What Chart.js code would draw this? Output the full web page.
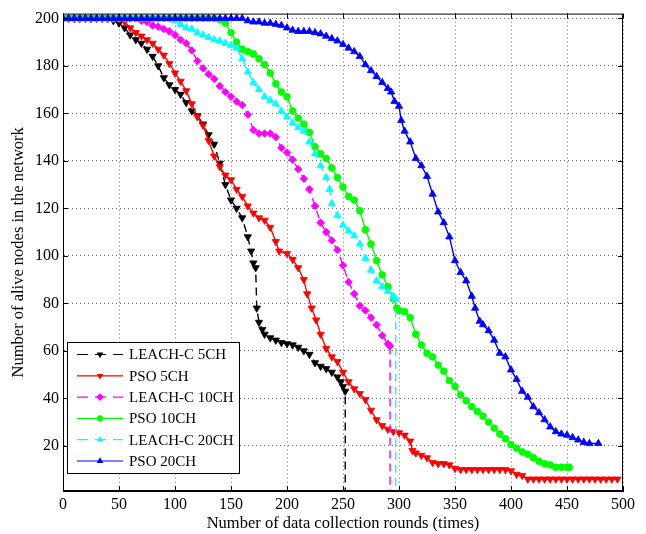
<!DOCTYPE html>
<html>
<head>
<meta charset="utf-8">
<script src="https://cdn.jsdelivr.net/npm/chart.js@4"></script>
<style>
  html, body { margin: 0; padding: 0; background: #fff; }
  #wrap { width: 646px; height: 534px; }
</style>
</head>
<body>
<div id="wrap"><canvas id="myChart" width="646" height="534"></canvas></div>
<script>
// rounds / alive nodes pairs
const leach5 = [[0,200],[5,200],[10,200],[15,200],[20,200],[25,200],[30,200],[35,200],[40,200],
  [45,199],[50,198],[55,196],[60,193],[65,191],[70,189.5],[75,187],[80,184],[85,180],[90,175],[95,172],[100,170],
  [105,168],[110,164.5],[115,161],[120,159],[125,155.5],[130,151],[135,147],[140,139],[145,130],[150,123.5],
  [155,120],[160,116],[165,108],[168,102],[170,97],[172,95],[173,78],[175,72],[178,69],[180,67],
  [185,65.5],[190,64.5],[195,63.5],[200,63],[205,62.5],[210,61.5],[215,60],[220,58.5],[225,55],[230,53.5],
  [235,52.5],[240,51],[245,49],[248,47],[250,45],[252,43],[252,0]];

const pso5 = [[0,200],[5,200],[10,200],[15,200],[20,200],[25,200],[30,200],[35,200],[40,200],[45,200],[50,200],
  [55,198.5],[60,196],[65,194],[70,192.5],[75,191],[80,189.5],[85,187],[90,184.5],[95,181],[100,177],
  [105,173.5],[110,169.5],[115,164],[120,158.5],[125,155],[130,148.5],[135,142],[140,137.5],[145,134],[150,132],
  [155,128],[160,125],[165,121],[170,118],[175,116],[180,115],[185,112],[190,106],[193,102],[200,101],
  [205,98.5],[210,95],[215,90],[218,84],[222,78],[226,73],[230,67],[235,61],[240,57.5],[245,55.5],
  [250,51],[255,47],[260,44],[265,42],[270,39.5],[275,35],[280,31],[285,28.5],[290,27],[295,26],
  [300,25.5],[305,24.5],[310,22],[312,18],[315,17],[320,16],[325,15],[330,13],[335,12.5],[340,12.5],
  [345,12],[350,10.5],[355,10],[360,10],[365,10],[370,10],[375,10],[380,10],[385,10],[390,10],[395,10],
  [400,9.5],[405,8],[410,7.5],[415,6],[420,6],[425,6],[430,6],[435,6],[440,6],[445,6],[450,6],
  [455,6],[460,6],[465,6],[470,6],[475,6],[480,6],[485,6],[490,6],[495,6]];

const leach10 = [[0,200],[5,200],[10,200],[15,200],[20,200],[25,200],[30,200],[35,200],[40,200],[45,200],
  [50,200],[55,200],[60,200],[65,200],[70,199],[75,198.5],[80,197],[85,196.5],[90,195.5],[95,194.5],[100,193],
  [105,191],[110,189.5],[115,186.5],[120,182],[125,179],[130,176.5],[135,174.5],[140,171.5],[145,169],[150,167],
  [155,165],[160,163.5],[165,159.5],[170,153],[175,151.5],[180,151.5],[185,151.5],[190,150],[195,145.5],[200,143.5],
  [205,140.5],[210,136.5],[215,132.5],[220,128],[225,121],[230,114],[235,110],[240,106.5],[245,102.5],[250,96],
  [255,89],[260,84],[265,79],[270,77],[275,74],[280,71],[285,66.5],[290,63],[292,62],[292,0]];

const pso10 = [[0,200],[5,200],[10,200],[15,200],[20,200],[25,200],[30,200],[35,200],[40,200],[45,200],
  [50,200],[55,200],[60,200],[65,200],[70,200],[75,200],[80,200],[85,200],[90,200],[95,200],[100,200],
  [105,200],[110,200],[115,200],[120,200],[125,200],[130,200],[135,200],[140,199.5],[145,198],[150,194],
  [155,190],[160,187],[165,186],[170,185],[175,183],[180,180.5],[185,177],[190,172.5],[195,169],[200,167],
  [205,161],[210,158],[215,155.5],[220,152],[225,146],[230,143],[235,141],[240,137],[245,133],[250,129],
  [255,125],[260,123.5],[265,119],[270,111],[275,105],[280,98],[285,92],[290,87],[295,82],[298,78],
  [300,77],[305,76.5],[310,74],[315,67],[320,62.5],[325,59],[330,57.5],[335,54],[340,51.5],[345,47.5],
  [350,45],[355,41.5],[360,39],[365,36.5],[370,34.5],[375,32.5],[380,30],[385,27.5],[390,25],[395,23],
  [400,20.5],[405,19],[410,17.5],[415,16.5],[420,15],[425,13.5],[430,12.5],[435,12],[440,11],[445,11],
  [450,11],[452,11]];

const leach20 = [[0,200],[5,200],[10,200],[15,200],[20,200],[25,200],[30,200],[35,200],[40,200],[45,200],
  [50,200],[55,200],[60,200],[65,200],[70,200],[75,200],[80,200],[85,200],[90,200],[95,200],[100,199],
  [105,197.5],[110,196],[115,195.5],[120,194],[125,193],[130,192],[135,191],[140,190.5],[145,189.5],[150,188.5],
  [155,187.5],[160,183],[165,177.5],[170,173],[175,170],[180,167],[185,165.5],[190,164],[195,161],[200,158.5],
  [205,156],[210,154],[215,152.5],[220,148],[225,143],[230,138],[235,133],[238,128],[240,122],[245,117],
  [250,113],[255,110.5],[260,108.5],[265,105],[270,99],[275,94],[280,89.5],[285,87],[290,85],[295,83],
  [297,82],[297,0]];

const pso20 = [[0,200],[5,200],[10,200],[15,200],[20,200],[25,200],[30,200],[35,200],[40,200],[45,200],
  [50,200],[55,200],[60,200],[65,200],[70,200],[75,200],[80,200],[85,200],[90,200],[95,200],[100,200],
  [105,200],[110,200],[115,200],[120,200],[125,200],[130,200],[135,200],[140,200],[145,200],[150,200],
  [155,200],[160,200],[165,199],[170,198.5],[175,198.5],[180,198],[185,198],[190,197.5],[195,197],[200,196],
  [205,195],[210,194.5],[215,194.5],[220,194.5],[225,194],[230,193.5],[235,192.5],[240,191.5],[245,190.5],[250,189],
  [255,187.5],[260,186],[265,184],[270,180.5],[275,178],[280,175.5],[285,173],[290,170.5],[293,169],[296,165],
  [300,163],[302,157],[305,152.5],[310,148],[315,141],[320,138],[325,133.5],[330,126],[335,118.5],[340,114],
  [345,108],[350,98],[355,93],[360,89.5],[365,83],[368,78],[372,72.5],[375,71],[380,68.5],[385,64.5],
  [390,59],[395,57.5],[400,52],[405,48],[410,43],[415,40.5],[420,36.5],[425,34],[430,31],[435,28],
  [440,26],[445,25],[450,24.5],[455,23.5],[460,22.5],[465,21.5],[470,21],[478,21]];

const seriesLabels = ["LEACH-C 5CH", "PSO 5CH", "LEACH-C 10CH", "PSO 10CH", "LEACH-C 20CH", "PSO 20CH"];
const xTicks = [0, 50, 100, 150, 200, 250, 300, 350, 400, 450, 500];
const yTicks = [20, 40, 60, 80, 100, 120, 140, 160, 180, 200];

const FONT = "'Liberation Serif', 'DejaVu Serif', serif";

// style per series (same order as labels)
const styles = [
	{ data: leach5, color: "#000000", dashed: true, shape: "triangle", rot: 180 },
	{ data: pso5, color: "#ff0000", dashed: false, shape: "triangle", rot: 180 },
	{ data: leach10, color: "#ff00ff", dashed: true, shape: "rectRot", rot: 0 },
	{ data: pso10, color: "#00ff00", dashed: false, shape: "circle", rot: 0 },
	{ data: leach20, color: "#00ffff", dashed: true, shape: "triangle", rot: 0 },
	{ data: pso20, color: "#0000ff", dashed: false, shape: "triangle", rot: 0 },
];

const datasets = styles.map(function (s, i) {
	const last = s.data.length - 1;
	return {
		label: seriesLabels[i],
		data: s.data.map(function (p) { return { x: p[0], y: p[1] }; }),
		borderColor: s.color,
		backgroundColor: s.color,
		borderWidth: 1.4,
		borderDash: s.dashed ? [8, 5] : [],
		pointStyle: s.shape,
		pointRotation: s.rot,
		pointRadius: function (c) {
			if (s.dashed && c.dataIndex === last) return 0;
			return s.shape === "triangle" ? 4.2 : (s.shape === "rectRot" ? 3.8 : 3.4);
		},
		pointBorderWidth: 0.8,
		pointHoverRadius: 0,
		fill: false,
		tension: 0,
		order: 6 - i,
	};
});

function drawMarker(ctx, shape, rot, x, y, r, color) {
	ctx.save();
	ctx.fillStyle = color;
	ctx.setLineDash([]);
	ctx.translate(x, y);
	ctx.rotate(rot * Math.PI / 180);
	ctx.beginPath();
	if (shape === "triangle") {
		ctx.moveTo(0, -r);
		ctx.lineTo(r * 0.866, r * 0.5);
		ctx.lineTo(-r * 0.866, r * 0.5);
		ctx.closePath();
	} else if (shape === "rectRot") {
		ctx.moveTo(0, -r);
		ctx.lineTo(r, 0);
		ctx.lineTo(0, r);
		ctx.lineTo(-r, 0);
		ctx.closePath();
	} else {
		ctx.arc(0, 0, r * 0.8, 0, Math.PI * 2);
	}
	ctx.fill();
	ctx.restore();
}

// frame, inward ticks and legend box drawn on top
const framePlugin = {
	id: "frame",
	afterDatasetsDraw: function (chart) {
		const ctx = chart.ctx;
		const a = chart.chartArea;
		const xs = chart.scales.x, ys = chart.scales.y;
		ctx.save();
		ctx.strokeStyle = "#000";
		ctx.lineWidth = 1;
		ctx.setLineDash([]);
		ctx.strokeRect(a.left + 0.5, a.top + 0.5, a.right - a.left - 1, a.bottom - a.top - 1);
		ctx.beginPath();
		xTicks.forEach(function (v) {
			const px = Math.round(xs.getPixelForValue(v)) + 0.5;
			ctx.moveTo(px, a.bottom); ctx.lineTo(px, a.bottom - 5);
			ctx.moveTo(px, a.top); ctx.lineTo(px, a.top + 5);
		});
		yTicks.forEach(function (v) {
			const py = Math.round(ys.getPixelForValue(v)) + 0.5;
			ctx.moveTo(a.left, py); ctx.lineTo(a.left + 5, py);
			ctx.moveTo(a.right, py); ctx.lineTo(a.right - 5, py);
		});
		ctx.stroke();

		// legend
		const bx = 67, by = 342, bw = 172, bh = 131;
		ctx.fillStyle = "#fff";
		ctx.fillRect(bx, by, bw, bh);
		ctx.strokeRect(bx + 0.5, by + 0.5, bw, bh);
		ctx.font = "15px " + FONT;
		ctx.textBaseline = "middle";
		ctx.textAlign = "left";
		styles.forEach(function (s, i) {
			const cy = 354.5 + i * 21.3;
			ctx.strokeStyle = s.color;
			ctx.lineWidth = 1.2;
			ctx.setLineDash(s.dashed ? [11, 7] : []);
			ctx.beginPath();
			ctx.moveTo(77, cy); ctx.lineTo(123, cy);
			ctx.stroke();
			drawMarker(ctx, s.shape, s.rot, 100, cy, 3.8, s.color);
			ctx.fillStyle = "#000";
			ctx.fillText(seriesLabels[i], 129, cy + 1);
		});
		ctx.restore();
	},
};

const ctx = document.getElementById("myChart").getContext("2d");
const myChart = new Chart(ctx, {
	type: "line",
	data: { datasets: datasets },
	options: {
		responsive: false,
		animation: false,
		layout: { padding: { left: 0, right: 23, top: 10, bottom: 0 } },
		plugins: {
			legend: { display: false },
			tooltip: { enabled: false },
		},
		scales: {
			x: {
				type: "linear",
				min: 0,
				max: 500,
				afterBuildTicks: function (s) { s.ticks = xTicks.map(function (v) { return { value: v }; }); },
				afterFit: function (s) { s.height = 43; },
				ticks: { color: "#000", font: { family: FONT, size: 16 }, padding: 4, maxRotation: 0, autoSkip: false },
				grid: { color: "rgba(0,0,0,0.55)", lineWidth: 1, drawTicks: false },
				border: { display: true, color: "#000", dash: [1, 3] },
				title: { display: true, text: "Number of data collection rounds (times)", color: "#000",
					font: { family: FONT, size: 16.5 }, padding: { top: 0, bottom: 0 } },
			},
			y: {
				type: "linear",
				min: 1,
				max: 202,
				afterBuildTicks: function (s) { s.ticks = yTicks.map(function (v) { return { value: v }; }); },
				afterFit: function (s) { s.width = 63; },
				ticks: { color: "#000", font: { family: FONT, size: 16 }, padding: 4, autoSkip: false },
				grid: { color: "rgba(0,0,0,0.55)", lineWidth: 1, drawTicks: false },
				border: { display: true, color: "#000", dash: [1, 3] },
				title: { display: true, text: "Number of alive nodes in the network", color: "#000",
					font: { family: FONT, size: 16.5 }, padding: { top: 9, bottom: 0 } },
			},
		},
	},
	plugins: [framePlugin],
});
</script>
</body>
</html>
